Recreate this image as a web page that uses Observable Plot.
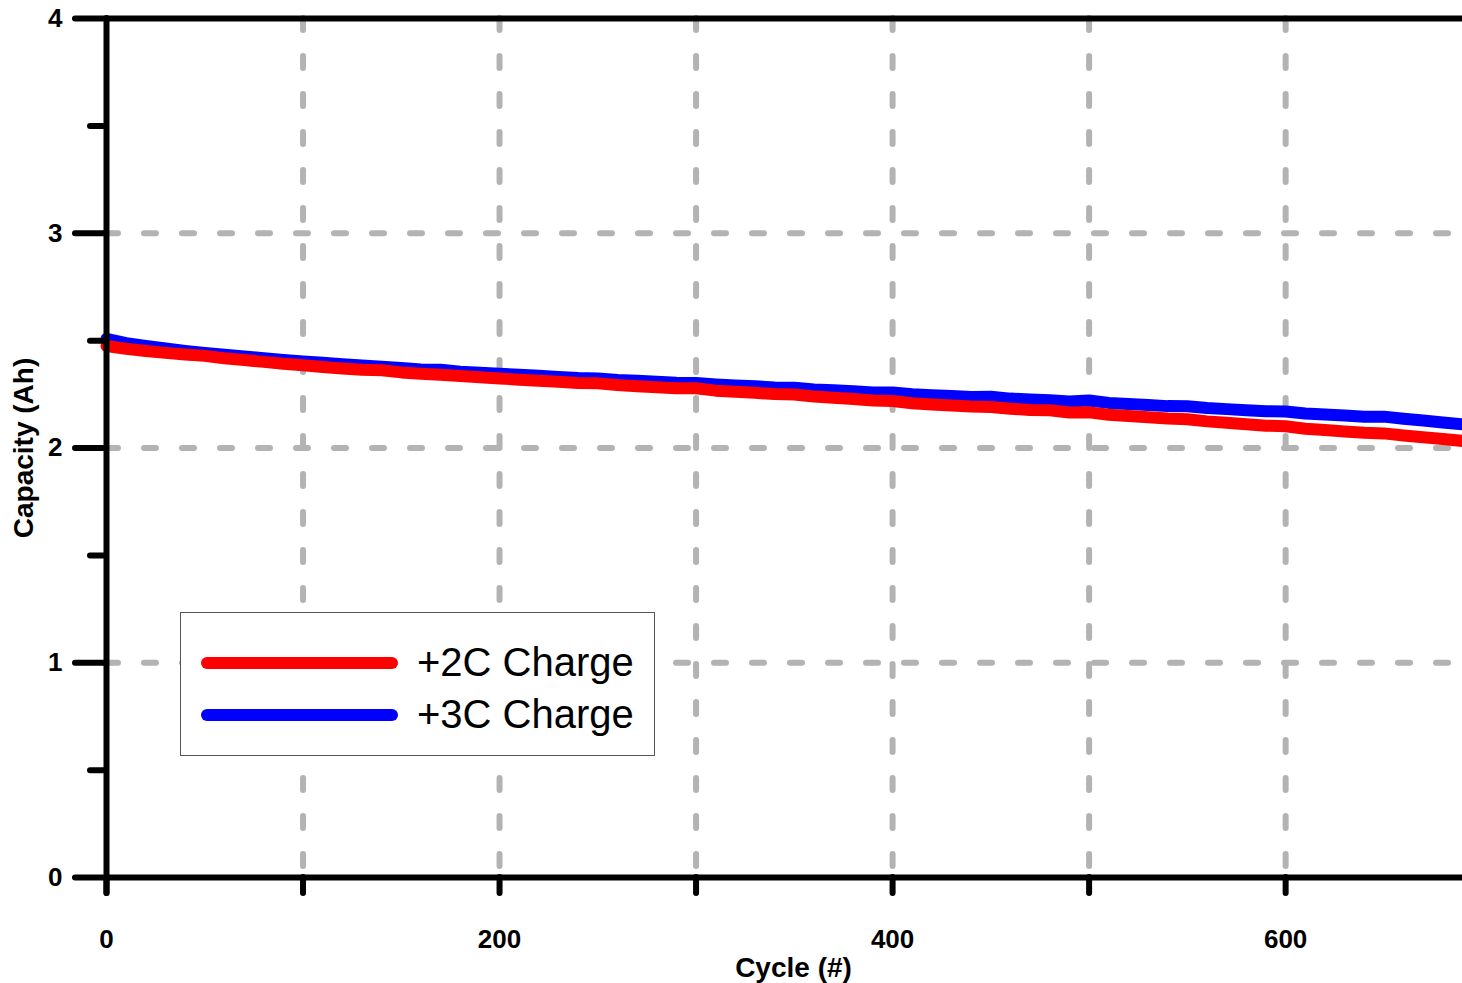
<!DOCTYPE html>
<html>
<head>
<meta charset="utf-8">
<script src="https://cdn.jsdelivr.net/npm/d3@7"></script>
<script src="https://cdn.jsdelivr.net/npm/@observablehq/plot@0.6"></script>
<style>
  html, body { margin: 0; padding: 0; background: #fff; }
  #wrap { position: relative; width: 1462px; height: 983px; overflow: hidden; }
  #legend { position: absolute; left: 180px; top: 612px; width: 473px; height: 142px;
    border: 1px solid #555; background: #fff; box-sizing: content-box; }
  .lg-line { position: absolute; left: 20px; width: 197px; height: 12px; border-radius: 6px; }
  .lg-text { position: absolute; left: 236px; font-family: "Liberation Sans", Arial, sans-serif;
    font-size: 40px; color: #000; white-space: nowrap; line-height: 1; }
</style>
</head>
<body>
<div id="wrap"></div>
<script>
const cycles = [0,10,20,30,40,50,60,70,80,90,100,110,120,130,140,150,160,170,180,190,200,210,220,230,240,250,260,270,280,290,300,310,320,330,340,350,360,370,380,390,400,410,420,430,440,450,460,470,480,490,500,510,520,530,540,550,560,570,580,590,600,610,620,630,640,650,660,670,680,690];
const charge2C = [2.475,2.462,2.452,2.443,2.435,2.429,2.418,2.410,2.401,2.392,2.385,2.377,2.370,2.364,2.362,2.352,2.346,2.341,2.335,2.329,2.324,2.318,2.313,2.308,2.303,2.301,2.293,2.288,2.283,2.278,2.278,2.267,2.262,2.257,2.251,2.249,2.240,2.234,2.228,2.221,2.219,2.208,2.203,2.198,2.193,2.191,2.183,2.177,2.176,2.165,2.166,2.155,2.149,2.143,2.137,2.134,2.124,2.118,2.111,2.104,2.101,2.090,2.084,2.077,2.071,2.068,2.058,2.050,2.042,2.033];
const charge3C = [2.508,2.488,2.475,2.463,2.452,2.443,2.434,2.426,2.418,2.410,2.403,2.397,2.390,2.384,2.378,2.373,2.366,2.364,2.355,2.350,2.346,2.341,2.336,2.331,2.326,2.324,2.317,2.313,2.308,2.304,2.303,2.296,2.291,2.287,2.282,2.281,2.273,2.269,2.264,2.259,2.259,2.250,2.246,2.242,2.238,2.239,2.230,2.226,2.222,2.217,2.221,2.210,2.205,2.200,2.195,2.194,2.186,2.181,2.176,2.171,2.170,2.161,2.156,2.151,2.146,2.146,2.136,2.128,2.119,2.110];
const seriesNames = ["+2C Charge", "+3C Charge"];
const seriesColors = ["#ff0000", "#0000ff"];
const xTickValues = [0,100,200,300,400,500,600];
const xLabelValues = [0,200,400,600];
const yTickValues = [0,1,2,3,4];
const yMinorValues = [0.5,1.5,2.5,3.5];
const xGridValues = [100,200,300,400,500,600];
const yGridValues = [1,2,3];
const xLabel = "Cycle (#)";
const yLabel = "Capacity (Ah)";

const rows2 = cycles.map((c, i) => ({cycle: c, cap: charge2C[i]}));
const rows3 = cycles.map((c, i) => ({cycle: c, cap: charge3C[i]}));

const axisFont = '"Liberation Sans", Arial, sans-serif';
const grey = "#b3b3b3";

const chart = Plot.plot({
  width: 1462,
  height: 983,
  marginLeft: 106,
  marginRight: 0,
  marginTop: 18,
  marginBottom: 106,
  style: {fontFamily: axisFont, fontWeight: "bold", fontSize: "26px", background: "#fff", overflow: "hidden"},
  x: {domain: [0, 690], axis: null},
  y: {domain: [0, 4], axis: null},
  marks: [
    Plot.ruleY(yGridValues, {x1: 0, x2: 690, stroke: grey, strokeWidth: 6, strokeDasharray: "12,26", strokeLinecap: "round"}),
    Plot.ruleX(xGridValues, {y1: 4, y2: 0, stroke: grey, strokeWidth: 6, strokeDasharray: "12,26", strokeLinecap: "round"}),
    Plot.line(rows3, {x: "cycle", y: "cap", stroke: seriesColors[1], strokeWidth: 12, strokeLinejoin: "round", strokeLinecap: "round"}),
    Plot.line(rows2, {x: "cycle", y: "cap", stroke: seriesColors[0], strokeWidth: 12, strokeLinejoin: "round", strokeLinecap: "round"}),
    Plot.ruleX([0], {y1: 4, y2: 0, insetBottom: -16, stroke: "#000", strokeWidth: 6, strokeLinecap: "round"}),
    Plot.ruleY([0, 4], {x1: 0, x2: 690, insetLeft: -31, stroke: "#000", strokeWidth: 6, strokeLinecap: "round"}),
    Plot.ruleY([1, 2, 3], {x1: 0, x2: 0, insetLeft: -31, stroke: "#000", strokeWidth: 6, strokeLinecap: "round"}),
    Plot.ruleY(yMinorValues, {x1: 0, x2: 0, insetLeft: -16, stroke: "#000", strokeWidth: 6, strokeLinecap: "round"}),
    Plot.ruleX(xTickValues, {y1: 0, y2: 0, insetBottom: -16, stroke: "#000", strokeWidth: 6, strokeLinecap: "round"}),
    Plot.axisX(xLabelValues, {tickSize: 0, tickPadding: 52, tickFormat: "d", fontSize: 26, fontWeight: "bold", label: null}),
    Plot.axisY(yTickValues, {tickSize: 0, tickPadding: 44, tickFormat: "d", fontSize: 26, fontWeight: "bold", label: null}),
    Plot.text([xLabel], {frameAnchor: "bottom", textAnchor: "middle", dx: 9, dy: 91, fontSize: 28, fontWeight: "bold", lineAnchor: "middle"}),
    Plot.text([yLabel], {frameAnchor: "left", textAnchor: "middle", dx: -82, rotate: -90, fontSize: 28, fontWeight: "bold", lineAnchor: "middle"})
  ]
});

const wrap = document.getElementById("wrap");
wrap.appendChild(chart);

const legend = document.createElement("div");
legend.id = "legend";
const rowTops = [50, 102];
seriesNames.forEach((name, i) => {
  const line = document.createElement("div");
  line.className = "lg-line";
  line.style.top = (rowTops[i] - 6) + "px";
  line.style.background = seriesColors[i];
  legend.appendChild(line);
  const t = document.createElement("div");
  t.className = "lg-text";
  t.style.top = (rowTops[i] - 21) + "px";
  t.textContent = name;
  legend.appendChild(t);
});
wrap.appendChild(legend);
</script>
</body>
</html>
